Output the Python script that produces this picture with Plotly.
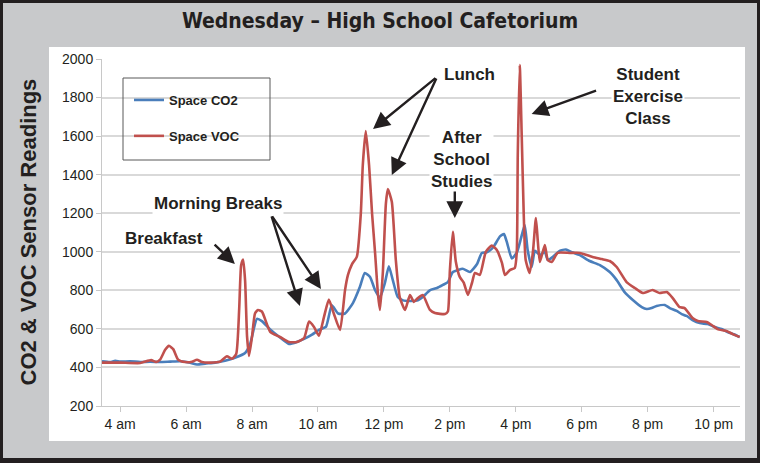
import plotly.graph_objects as go

# ---- data (time in hours of day, readings in ppm) ----
co2_time = [3.45, 3.70, 3.85, 4.00, 4.30, 4.61, 4.91, 5.21, 5.52, 5.82, 6.12, 6.33, 6.58, 6.88,
            7.18, 7.48, 7.79, 7.94, 8.15, 8.30, 8.55, 8.85, 9.12, 9.36, 9.58, 9.82, 10.03, 10.24,
            10.42, 10.61, 10.82, 11.06, 11.27, 11.42, 11.58, 11.73, 11.88, 12.03, 12.15, 12.27,
            12.42, 12.58, 12.79, 13.03, 13.18, 13.39, 13.61, 13.79, 13.94, 14.09, 14.24, 14.39,
            14.61, 14.82, 14.97, 15.12, 15.27, 15.36, 15.52, 15.64, 15.73, 15.88, 16.03, 16.15,
            16.27, 16.36, 16.48, 16.58, 16.73, 16.88, 16.97, 17.12, 17.33, 17.52, 17.70, 17.94,
            18.24, 18.55, 18.85, 19.06, 19.30, 19.55, 19.82, 19.97, 20.12, 20.27, 20.52, 20.67,
            20.88, 21.03, 21.18, 21.36, 21.58, 21.82, 22.03, 22.24, 22.42, 22.61, 22.79]
co2_vals = [432, 428, 434, 430, 432, 428, 430, 428, 430, 432, 425, 415, 420, 425,
            435, 450, 475, 520, 652, 640, 597, 555, 522, 532, 548, 570, 595, 610,
            722, 680, 680, 734, 817, 890, 869, 802, 762, 838, 925, 853,
            765, 748, 745, 748, 765, 800, 812, 828, 843, 895, 905, 912,
            895, 935, 994, 997, 1015, 1035, 1080, 1092, 1050, 965, 995, 1065,
            1139, 1009, 921, 1005, 983, 1000, 957, 973, 1005, 1012, 998, 983,
            952, 931, 895, 853, 791, 750, 713, 703, 708, 719, 724, 708,
            693, 677, 667, 646, 630, 625, 610, 599, 584, 572, 558]

voc_time = [3.45, 4.00, 4.61, 4.94, 5.09, 5.21, 5.36, 5.48, 5.61, 5.76, 5.97, 6.18, 6.33, 6.48,
            6.73, 7.03, 7.24, 7.39, 7.52, 7.61, 7.67, 7.73, 7.79, 7.85, 7.91, 8.00, 8.09, 8.18,
            8.30, 8.55, 8.85, 9.12, 9.36, 9.58, 9.73, 9.88, 10.03, 10.18, 10.33, 10.48, 10.67,
            10.82, 10.91, 11.03, 11.18, 11.30, 11.36, 11.45, 11.55, 11.64, 11.73, 11.82, 11.88,
            11.97, 12.06, 12.12, 12.24, 12.36, 12.48, 12.64, 12.79, 12.91, 13.03, 13.18, 13.39,
            13.55, 13.85, 13.94, 14.00, 14.09, 14.18, 14.30, 14.42, 14.55, 14.67, 14.76, 14.91,
            15.09, 15.27, 15.42, 15.58, 15.67, 15.82, 15.97, 16.03, 16.06, 16.12, 16.18, 16.24,
            16.30, 16.42, 16.52, 16.61, 16.67, 16.73, 16.88, 16.97, 17.09, 17.27, 17.64, 17.94,
            18.33, 18.61, 18.85, 19.06, 19.36, 19.61, 19.85, 20.15, 20.36, 20.58, 20.76, 20.97,
            21.12, 21.36, 21.52, 21.79, 21.94, 22.12, 22.39, 22.58, 22.79]
voc_vals = [425, 425, 423, 438, 428, 440, 490, 512, 495, 440, 428, 430, 440, 428,
            425, 430, 458, 445, 470, 700, 930, 960, 850, 560, 460, 560, 680, 698,
            690, 585, 558, 532, 532, 553, 638, 610, 565, 660, 752, 680, 594,
            800, 880, 935, 975, 1200, 1450, 1626, 1450, 1200, 1000, 780, 698,
            900, 1250, 1325, 1260, 960, 765, 698, 775, 740, 760, 776, 700,
            682, 677, 690, 900, 1103, 950, 870, 840, 776, 838, 890, 880,
            1000, 1032, 1010, 942, 880, 905, 916, 1000, 1500, 1969, 1600, 1200,
            957, 890, 1000, 1175, 1050, 947, 1035, 957, 947, 994, 994, 994,
            973, 962, 952, 921, 843, 812, 786, 802, 786, 791, 760, 713,
            708, 656, 641, 636, 620, 599, 589, 573, 558]

tick_hours = [4, 6, 8, 10, 12, 14, 16, 18, 20, 22]
tick_labels = ["4 am", "6 am", "8 am", "10 am", "12 pm", "2 pm", "4 pm", "6 pm", "8 pm", "10 pm"]

DARK = "#231f20"
FONT = "Liberation Sans, Arial, sans-serif"

fig = go.Figure()
fig.add_trace(go.Scatter(x=co2_time, y=co2_vals, mode="lines", name="Space CO2",
                         legendgroup="a",
                         line=dict(color="#4a7ebb", width=2.6, shape="spline", smoothing=0.5)))
fig.add_trace(go.Scatter(x=voc_time, y=voc_vals, mode="lines", name="Space VOC",
                         legendgroup="b",
                         line=dict(color="#c0504d", width=2.6, shape="spline", smoothing=0.5)))

# plot area: x 102..740, y 59..406 px
L, R, T, B = 102, 740, 59, 406
W, H = R - L, B - T
def px(x):
    return (x - L) / W
def py(y):
    return (B - y) / H

shapes = [
    # grey panel
    dict(type="rect", xref="paper", yref="paper", x0=px(3), x1=px(757), y0=py(458), y1=py(3),
         fillcolor="#c8c9cb", line=dict(width=0), layer="below"),
    # white chart box
    dict(type="rect", xref="paper", yref="paper", x0=px(49), x1=px(745), y0=py(441), y1=py(47),
         fillcolor="white", line=dict(width=0), layer="below"),
    # legend frame
    dict(type="rect", xref="paper", yref="paper", x0=px(123), x1=px(270), y0=py(160), y1=py(78),
         fillcolor="rgba(0,0,0,0)", line=dict(color="#595959", width=1), layer="above"),
]

ann_font = dict(family=FONT, size=17, color=DARK)
annotations = []
texts = [
    ("<b>Breakfast</b>", 5.33, 1071),
    ("<b>Morning Breaks</b>", 6.97, 1248),
    ("<b>Lunch</b>", 14.61, 1922),
    ("<b>After<br>School<br>Studies</b>", 14.36, 1481),
    ("<b>Student<br>Exercise<br>Class</b>", 20.0, 1808),
]
for t, x, y in texts:
    annotations.append(dict(text=t, x=x, y=y, xref="x", yref="y", showarrow=False,
                            font=ann_font, bgcolor="white", align="center"))

arrows = [
    ((6.82, 1045), (7.48, 937)),
    ((8.58, 1191), (9.45, 719)),
    ((8.58, 1191), (10.09, 807)),
    ((13.61, 1907), (11.67, 1637)),
    ((13.61, 1907), (12.24, 1398)),
    ((14.15, 1320), (14.15, 1175)),
    ((18.48, 1839), (16.48, 1715)),
]
for (tx, ty), (hx, hy) in arrows:
    annotations.append(dict(text="", x=hx, y=hy, ax=tx, ay=ty, xref="x", yref="y",
                            axref="x", ayref="y", showarrow=True, arrowhead=2,
                            arrowsize=1.4, arrowwidth=2.4, arrowcolor=DARK, standoff=0))

# y-axis title
annotations.append(dict(text="<b>CO2 & VOC Sensor Readings</b>", xref="paper", yref="paper",
                        x=px(28), y=0.5, xanchor="center", yanchor="middle",
                        textangle=-90, showarrow=False,
                        font=dict(family=FONT, size=22, color=DARK)))

fig.update_layout(
    width=760, height=463,
    margin=dict(l=L, r=760 - R, t=T, b=463 - B),
    paper_bgcolor=DARK,
    plot_bgcolor="white",
    title=dict(text="Wednesday – High School Cafetorium", xref="container", yref="container",
               x=0.5, y=1 - 21 / 463, xanchor="center", yanchor="middle",
               font=dict(family="Liberation Sans Narrow, DejaVu Sans Condensed, Arial Narrow, sans-serif",
                         size=21, color=DARK, weight="bold")),
    xaxis=dict(range=[3.45, 22.8], tickvals=tick_hours, ticktext=tick_labels,
               showgrid=False, showline=True, linecolor="#c8c8c8", linewidth=1,
               ticks="outside", ticklen=5, tickcolor="#c8c8c8",
               tickfont=dict(family=FONT, size=14, color=DARK), zeroline=False),
    yaxis=dict(range=[200, 2000], dtick=200, tick0=200, showgrid=True, gridcolor="#d9d9d9",
               gridwidth=1.5, showline=True, linecolor="#c8c8c8", linewidth=1,
               ticks="outside", ticklen=5, tickcolor="#c8c8c8",
               tickfont=dict(family=FONT, size=14, color=DARK), zeroline=False),
    legend=dict(x=px(129), y=py(85), xanchor="left", yanchor="top",
                bgcolor="rgba(0,0,0,0)", borderwidth=0, tracegroupgap=16,
                font=dict(family=FONT, size=13, color=DARK, weight="bold")),
    shapes=shapes,
    annotations=annotations,
    showlegend=True,
)

fig.write_html("out.html")
